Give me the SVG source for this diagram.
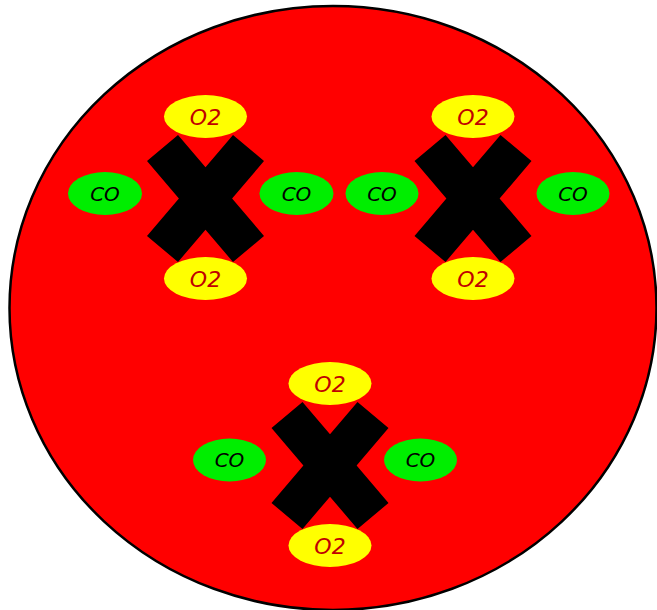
<svg xmlns="http://www.w3.org/2000/svg" xmlns:xlink="http://www.w3.org/1999/xlink" width="657" height="610" viewBox="0 0 657 610">
<style>
.o2 { fill: #ffff00; }
.co { fill: #00ee00; }
.o2t { font-family: "DejaVu Sans", "Liberation Sans", sans-serif; font-style: italic; font-size: 22px; fill: #c00000; text-anchor: middle; }
.cot { font-family: "DejaVu Sans", "Liberation Sans", sans-serif; font-style: italic; font-size: 20px; fill: #000000; text-anchor: middle; }
.xs { fill: #000000; }
</style>
<defs>
<polygon id="xshape" class="xs" points="-27.5,-63.5 0,-31.2 27.5,-63.5 58.5,-37.5 26.6,0 58.5,37.5 27.5,63.5 0,31.2 -27.5,63.5 -58.5,37.5 -26.6,0 -58.5,-37.5"/>
</defs>
<rect width="657" height="610" fill="#ffffff"/>
<g id="cell">
<ellipse cx="333" cy="308" rx="323.5" ry="302" fill="#ff0000" stroke="#000000" stroke-width="2.5"/>
</g>
<g id="molecule1">
<use xlink:href="#xshape" href="#xshape" transform="translate(205.5,198.5)"/>
<g id="m1-o2-top"><ellipse class="o2" cx="205.5" cy="116.5" rx="41.5" ry="21.5"/><text class="o2t" x="205.5" y="124.5">O2</text></g>
<g id="m1-o2-bottom"><ellipse class="o2" cx="205.5" cy="278.5" rx="41.5" ry="21.5"/><text class="o2t" x="205.5" y="286.5">O2</text></g>
<g id="m1-co-left"><ellipse class="co" cx="105" cy="193.5" rx="37" ry="21.5"/><text class="cot" x="105" y="201">CO</text></g>
<g id="m1-co-right"><ellipse class="co" cx="296.5" cy="193.5" rx="37" ry="21.5"/><text class="cot" x="296.5" y="201">CO</text></g>
</g>
<g id="molecule2">
<use xlink:href="#xshape" href="#xshape" transform="translate(473,198.5)"/>
<g id="m2-o2-top"><ellipse class="o2" cx="473" cy="116.5" rx="41.5" ry="21.5"/><text class="o2t" x="473" y="124.5">O2</text></g>
<g id="m2-o2-bottom"><ellipse class="o2" cx="473" cy="278.5" rx="41.5" ry="21.5"/><text class="o2t" x="473" y="286.5">O2</text></g>
<g id="m2-co-left"><ellipse class="co" cx="382" cy="193.5" rx="36.5" ry="21.5"/><text class="cot" x="382" y="201">CO</text></g>
<g id="m2-co-right"><ellipse class="co" cx="573" cy="193.5" rx="36.5" ry="21.5"/><text class="cot" x="573" y="201">CO</text></g>
</g>
<g id="molecule3">
<use xlink:href="#xshape" href="#xshape" transform="translate(330,465.5)"/>
<g id="m3-o2-top"><ellipse class="o2" cx="330" cy="383.5" rx="41.5" ry="21.5"/><text class="o2t" x="330" y="391.5">O2</text></g>
<g id="m3-o2-bottom"><ellipse class="o2" cx="330" cy="545.5" rx="41.5" ry="21.5"/><text class="o2t" x="330" y="553.5">O2</text></g>
<g id="m3-co-left"><ellipse class="co" cx="229.5" cy="460" rx="36.5" ry="21.5"/><text class="cot" x="229.5" y="467">CO</text></g>
<g id="m3-co-right"><ellipse class="co" cx="420.5" cy="460" rx="36.5" ry="21.5"/><text class="cot" x="420.5" y="467">CO</text></g>
</g>
</svg>
